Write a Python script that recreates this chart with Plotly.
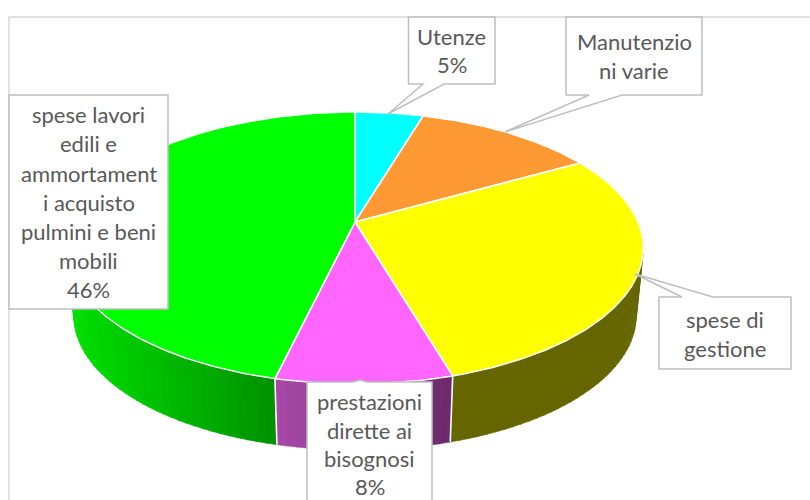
import math
import plotly.graph_objects as go

# ---- data -------------------------------------------------------------
categories = ["Utenze", "Manutenzioni varie", "spese di gestione",
              "prestazioni dirette ai bisognosi",
              "spese lavori edili e ammortamenti acquisto pulmini e beni mobili"]
values = [4.6, 12.2, 28.65, 8.25, 46.3]
top_colors = ["#00ffff", "#ff9933", "#ffff00", "#ff66ff", "#00ff00"]
side_left = ["#00cccc", "#cc7a29", "#666600", "#a848a8", "#00e000"]
side_right = ["#009999", "#995c1f", "#666600", "#6b2a6b", "#009000"]
label_lines = [
    ["Utenze", "5%"],
    ["Manutenzio", "ni varie"],
    ["spese di", "gestione"],
    ["prestazioni", "dirette ai", "bisognosi", "8%"],
    ["spese lavori", "edili e", "ammortament", "i acquisto", "pulmini e beni", "mobili", "46%"],
]

# ---- projection of the tilted disc -------------------------------------
CX, CY, R, A, K = 355.0, 222.0, 283.0, 131.0, 0.191
DEPTH, BOTTOM_SCALE_X, BOTTOM_SCALE_Y = 67.0, 0.975, 0.985


def top_pt(a):
    s, c = math.sin(a), math.cos(a)
    d = 1 + K * c
    return CX + R * s / d, CY - A * c / d


def bot_pt(a):
    x, y = top_pt(a)
    return CX + (x - CX) * BOTTOM_SCALE_X, CY + (y - CY) * BOTTOM_SCALE_Y + DEPTH + 1.5


def mix(c1, c2, t):
    p = [int(c1[i:i + 2], 16) for i in (1, 3, 5)]
    q = [int(c2[i:i + 2], 16) for i in (1, 3, 5)]
    return "rgb(%d,%d,%d)" % tuple(round(u + (v - u) * t) for u, v in zip(p, q))


total = sum(values)
bounds = [0.0]
for v in values:
    bounds.append(bounds[-1] + v / total * 2 * math.pi)

fig = go.Figure()

# side wall: thin facets, back to front, with a horizontal gradient
for i, v in enumerate(values):
    a1, a2 = bounds[i], bounds[i + 1]
    lo, hi = max(a1, math.pi * 0.35), min(a2, math.pi * 1.65)
    if hi <= lo:
        continue
    n = max(2, int((hi - lo) / 0.03))
    xs_all = [top_pt(lo + (hi - lo) * j / n)[0] for j in range(n + 1)]
    xmin, xmax = min(xs_all), max(xs_all)
    for j in range(n):
        b1 = lo + (hi - lo) * j / n
        b2 = lo + (hi - lo) * (j + 1) / n + 0.004
        pts = [top_pt(b1), top_pt(b2), bot_pt(b2), bot_pt(b1), top_pt(b1)]
        xm = (top_pt(b1)[0] + top_pt(b2)[0]) / 2
        t = (xm - xmin) / (xmax - xmin) if xmax > xmin else 0
        col = mix(side_left[i], side_right[i], t)
        fig.add_trace(go.Scatter(x=[p[0] for p in pts], y=[p[1] for p in pts],
                                 mode="lines", fill="toself", fillcolor=col,
                                 line=dict(width=0.5, color=col),
                                 hoverinfo="skip", showlegend=False))

# white seams on the wall
for b in (bounds[3], bounds[4]):
    p, q = top_pt(b), bot_pt(b)
    fig.add_trace(go.Scatter(x=[p[0], q[0]], y=[p[1], q[1]], mode="lines",
                             line=dict(color="white", width=1.6),
                             hoverinfo="skip", showlegend=False))

# top wedges
for i, name in enumerate(categories):
    a1, a2 = bounds[i], bounds[i + 1]
    n = max(4, int((a2 - a1) / 0.01))
    rim = [top_pt(a1 + (a2 - a1) * j / n) for j in range(n + 1)]
    xs = [CX] + [p[0] for p in rim] + [CX]
    ys = [CY] + [p[1] for p in rim] + [CY]
    fig.add_trace(go.Scatter(x=xs, y=ys, mode="lines", fill="toself",
                             fillcolor=top_colors[i], name=name,
                             line=dict(color="white", width=1.5),
                             hoverinfo="skip", showlegend=False))

# ---- label boxes (pixel layout) -----------------------------------------
BORDER = "#bfbfbf"
# left, top, right, bottom, pointer (edge, base1, base2, tipx, tipy)
boxes = [
    (408.5, 17, 495, 84, ("bottom", 423, 444, 388, 114)),
    (566, 17, 702, 95, ("bottom", 589, 622, 505, 132)),
    (659, 297, 791, 369, ("top", 682, 713, 635, 274)),
    (307, 382, 432, 530, ("top", 353, 367, 360, 380)),
    (9, 95, 168, 309, None),
]
line_y = [
    [36, 64],
    [41, 70],
    [319, 348],
    [401, 430, 458, 486.5],
    [114, 143, 173, 202, 231, 260, 289],
]
shapes = [dict(type="rect", xref="x", yref="y", x0=9, y0=17, x1=840, y1=530,
               line=dict(color="#d9d9d9", width=1.5), fillcolor="rgba(0,0,0,0)", layer="below")]
annotations = []
for (l, t, r, b, ptr), lines, ys in zip(boxes, label_lines, line_y):
    if ptr is None:
        path = f"M{l},{t}L{r},{t}L{r},{b}L{l},{b}Z"
    elif ptr[0] == "bottom":
        _, b1, b2, tx, ty = ptr
        path = f"M{l},{t}L{r},{t}L{r},{b}L{b2},{b}L{tx},{ty}L{b1},{b}L{l},{b}Z"
    else:
        _, b1, b2, tx, ty = ptr
        path = f"M{l},{t}L{b1},{t}L{tx},{ty}L{b2},{t}L{r},{t}L{r},{b}L{l},{b}Z"
    shapes.append(dict(type="path", path=path, xref="x", yref="y", fillcolor="white",
                       line=dict(color=BORDER, width=1.5), layer="above"))
    for txt, y in zip(lines, ys):
        annotations.append(dict(x=(l + r) / 2, y=y, xref="x", yref="y", text=txt, showarrow=False,
                                xanchor="center", yanchor="middle",
                                font=dict(family="Lato", size=22, color="#595959")))

fig.update_layout(
    width=810, height=500, margin=dict(l=0, r=0, t=0, b=0),
    paper_bgcolor="white", plot_bgcolor="white", showlegend=False,
    xaxis=dict(range=[0, 810], visible=False, fixedrange=True),
    yaxis=dict(range=[500, 0], visible=False, fixedrange=True),
    shapes=shapes, annotations=annotations,
)
fig.write_html("out.html", config=dict(displayModeBar=False),
               post_script="document.body.style.margin='0';")
